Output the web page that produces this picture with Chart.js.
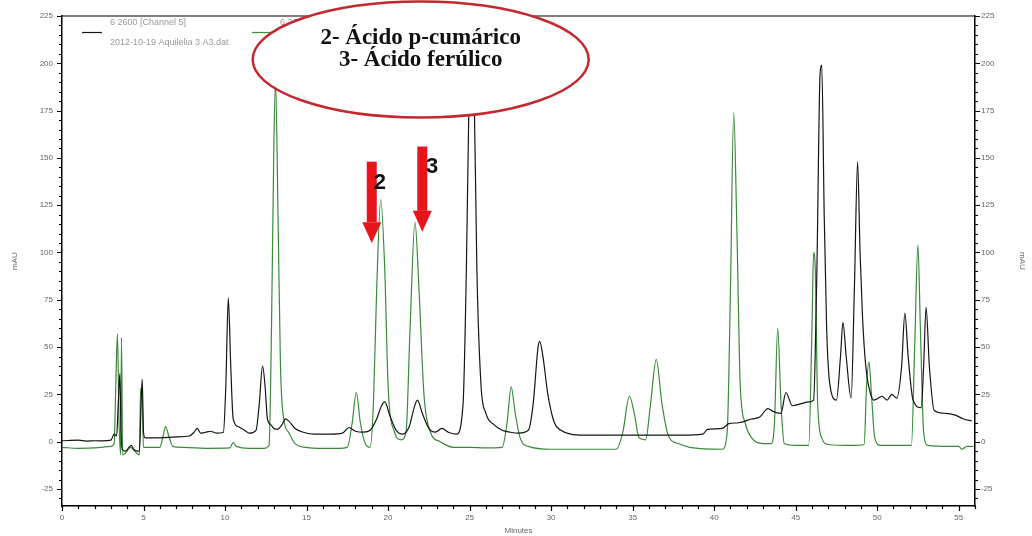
<!DOCTYPE html>
<html>
<head>
<meta charset="utf-8">
<script src="https://cdn.jsdelivr.net/npm/chart.js@4/dist/chart.umd.min.js"></script>
<style>
  html, body { margin: 0; padding: 0; background: #fff; }
  #wrap { width: 1032px; height: 536px; }
</style>
</head>
<body>
<div id="wrap"><canvas id="myChart" width="1032" height="536"></canvas></div>
<script>
// chromatogram traces (minutes, mAU)
var blackTime = [0, 1.0, 1.5, 2.0, 2.5, 3.0, 3.2, 3.35, 3.45, 3.55, 3.62, 3.7, 3.9, 4.1, 4.25, 4.4, 4.6, 4.75, 4.85, 4.92, 5.0, 5.1,
  6.0, 7.0, 7.8, 8.1, 8.3, 8.5, 8.8, 9.1, 9.5, 9.9, 10.05, 10.2, 10.35, 10.5, 10.8, 11.2, 11.5, 11.9, 12.1, 12.3, 12.45, 12.6,
  12.8, 13.0, 13.2, 13.5, 13.7, 13.9, 14.3, 14.8, 15.5, 16.5, 17.2, 17.6, 18.0, 18.5, 18.9, 19.3, 19.6, 19.8, 20.1, 20.5,
  20.9, 21.3, 21.6, 21.8, 22.1, 22.5, 22.9, 23.3, 23.7, 24.2, 24.6, 24.8, 25.0, 25.1, 25.25, 25.45, 25.7, 26.0, 26.5, 27.0,
  27.5, 28.0, 28.6, 28.9, 29.2, 29.3, 29.5, 29.8, 30.2, 30.6, 31.2, 32, 34, 36, 38, 39.3, 39.6, 40.5, 40.9, 41.5, 42.3,
  42.8, 43.3, 43.6, 44.1, 44.4, 44.8, 45.3, 45.8, 46.1, 46.3, 46.5, 46.6, 46.75, 46.9, 47.1, 47.5, 47.75, 47.9, 48.1,
  48.4, 48.6, 48.8, 48.95, 49.1, 49.3, 49.6, 49.8, 50.3, 50.6, 50.9, 51.2, 51.5, 51.7, 51.9, 52.2, 52.7, 52.85, 53.0,
  53.2, 53.5, 54.2, 54.8, 55.3, 55.8];
var blackMau = [0.5, 0.8, 0.3, 0.5, 0.4, 0.8, 4, 3, 20, 36, 5, -4, -5, -3, -2, -4, -5, -5, 20, 33, 5, 2,
  2, 2.5, 3, 5, 7, 4.5, 5, 5.5, 4.5, 5, 30, 76, 40, 12, 8, 6, 4.5, 6, 20, 40, 30, 12,
  9, 7, 6.5, 9, 12, 11, 7, 5, 4, 4, 4.5, 7.5, 5.5, 5, 6, 12, 19, 21, 14, 6,
  4, 8, 18, 22, 15, 7, 5, 7, 5, 4, 20, 90, 200, 222, 200, 90, 30, 15, 9, 6,
  5, 4.5, 6, 20, 50, 53, 45, 25, 10, 6, 4, 3.5, 3.5, 3.5, 3.5, 4, 6.5, 7, 9.5, 10, 12,
  13, 17.5, 16, 15, 26, 19, 20, 21, 22, 90, 195, 199, 120, 60, 30, 22, 45, 63, 45,
  23, 80, 148, 100, 66, 40, 25, 22, 24, 22, 25, 23, 40, 68, 45, 22, 18, 40, 71,
  40, 16.5, 15, 14, 12, 11];

var greenTime = [0, 1.0, 2.0, 3.0, 3.2, 3.3, 3.4, 3.5, 3.6, 3.65, 3.72, 3.9, 4.2, 4.5, 4.75, 4.82, 4.9, 5.0, 5.5, 6.0,
  6.2, 6.35, 6.55, 6.8, 7.5, 9.0, 10.3, 10.5, 10.7, 11.5, 12.4, 12.7, 12.85, 13.0, 13.1, 13.25, 13.4, 13.6, 13.9,
  14.3, 15, 16, 17.0, 17.5, 17.8, 18.05, 18.3, 18.6, 18.9, 19.1, 19.3, 19.55, 19.8, 20.0, 20.4, 20.8, 21.1, 21.35,
  21.65, 21.9, 22.2, 22.6, 23.2, 24, 25, 26, 27.0, 27.3, 27.55, 27.8, 28.1, 28.6, 30, 32, 34.0, 34.4, 34.8, 35.1,
  35.4, 35.8, 36.1, 36.45, 36.8, 37.2, 37.8, 38.5, 40.5, 40.8, 41.0, 41.2, 41.4, 41.6, 41.9, 42.3, 43.0, 43.5,
  43.7, 43.9, 44.1, 44.3, 45.0, 45.8, 46.0, 46.1, 46.2, 46.35, 46.6, 47.0, 48.5, 49.2, 49.35, 49.5, 49.65, 49.85,
  50.2, 52.1, 52.3, 52.5, 52.65, 52.85, 53.1, 54.5, 55.0, 55.2, 55.5, 55.9];
var greenMau = [-3, -3.5, -3.3, -2.5, -1, 30, 57, 10, -7, 55, -7, -6, -3, -5.5, -7, 28, 26, -3, -3, -3,
  3, 8, 3, -2.5, -3, -3.5, -3.3, -0.5, -2.5, -3.5, -3.5, -2, 60, 160, 190, 120, 40, 12, 5,
  -1, -3, -3.5, -3.5, -3, 10, 26, 10, -1, -3, 20, 80, 128, 90, 30, 5, 1, 5, 60,
  116, 80, 25, 5, 0, -3, -3, -3.3, -3, 10, 29, 15, 2, -2.5, -4, -4, -4, 5, 24, 15,
  2, 1, 20, 43.5, 20, 3, -1, -3, -4, 5, 80, 174, 110, 30, 10, 2, -1, -1,
  10, 60, 20, -1, -2, -2, 60, 100, 92, 20, 2, -1.5, -2, -1.5, 30, 42, 25, 2,
  -2, -2, 50, 104, 60, 5, -2, -2.5, -2.5, -4, -2.5, -2.5];

var xTicks = [0, 5, 10, 15, 20, 25, 30, 35, 40, 45, 50, 55];
var yTicks = [-25, 0, 25, 50, 75, 100, 125, 150, 175, 200, 225];

var legendLines = [['6 2600 [Channel 5]', '2012-10-19 Aquilelia 3 A3.dat'], ['6 2600 [Channel 6]', '2012-10-19 Aquilelia 3 A3.dat']];
var compoundText = ['2- Ácido p-cumárico', '3- Ácido ferúlico'];

function pairs(t, v) {
  return t.map(function (x, i) { return { x: x, y: v[i] }; });
}

var tickFont = { family: 'Liberation Sans', size: 8 };
var grey = '#666';

function fixTicks(list) {
  return function (scale) {
    scale.ticks = list.map(function (v) { return { value: v }; });
  };
}

// minor/major ticks, top frame, legend, ellipse and arrows
var extras = {
  id: 'extras',
  afterDraw: function (chart) {
    var ctx = chart.ctx;
    var a = chart.chartArea;
    var sx = chart.scales.x, sy = chart.scales.y;
    ctx.save();
    ctx.strokeStyle = '#000';
    ctx.lineWidth = 1.2;
    ctx.beginPath();
    ctx.moveTo(a.left, a.top); ctx.lineTo(a.right, a.top);
    // x ticks
    for (var m = 0; m <= 56; m++) {
      var px = Math.round(sx.getPixelForValue(m)) + 0.5;
      var len = m % 5 === 0 ? 5 : 3;
      ctx.moveTo(px, a.bottom); ctx.lineTo(px, a.bottom + len);
    }
    // y ticks both sides
    for (var v = -30; v <= 225; v += 5) {
      var py = Math.round(sy.getPixelForValue(v)) + 0.5;
      var l2 = v % 25 === 0 ? 5 : 3;
      ctx.moveTo(a.left, py); ctx.lineTo(a.left - l2, py);
      ctx.moveTo(a.right, py); ctx.lineTo(a.right + l2, py);
    }
    ctx.stroke();

    // legend
    ctx.font = '9px "Liberation Sans"';
    ctx.fillStyle = '#999';
    ctx.textBaseline = 'middle';
    var lx = [82, 252];
    chart.data.datasets.forEach(function (ds, i) {
      ctx.strokeStyle = ds.borderColor;
      ctx.lineWidth = 1.2;
      ctx.beginPath();
      ctx.moveTo(lx[i], 32.5); ctx.lineTo(lx[i] + 20, 32.5);
      ctx.stroke();
      ctx.fillText(legendLines[i][0], lx[i] + 28, 23);
      ctx.fillText(legendLines[i][1], lx[i] + 28, 43);
    });

    // ellipse with compound names
    var ex = sx.getPixelForValue(22.0), ey = sy.getPixelForValue(202);
    ctx.beginPath();
    ctx.ellipse(ex, ey, 168, 58, 0, 0, Math.PI * 2);
    ctx.fillStyle = '#fff';
    ctx.fill();
    ctx.strokeStyle = '#c3282f';
    ctx.lineWidth = 2.5;
    ctx.stroke();
    ctx.fillStyle = '#111';
    ctx.textAlign = 'center';
    ctx.font = 'bold 23px "Liberation Serif"';
    ctx.fillText(compoundText[0], ex, ey - 21);
    ctx.fillText(compoundText[1], ex, ey + 1);

    // red arrows
    function arrow(t, top, head, tip, label, lt, lv) {
      var cx = sx.getPixelForValue(t);
      var y0 = sy.getPixelForValue(top), y1 = sy.getPixelForValue(head), y2 = sy.getPixelForValue(tip);
      ctx.fillStyle = '#e8141b';
      ctx.fillRect(cx - 5, y0, 10, y1 - y0);
      ctx.beginPath();
      ctx.moveTo(cx - 9.5, y1); ctx.lineTo(cx + 9.5, y1); ctx.lineTo(cx, y2);
      ctx.closePath();
      ctx.fill();
      ctx.fillStyle = '#111';
      ctx.font = 'bold 22px "Liberation Sans"';
      ctx.fillText(label, sx.getPixelForValue(lt), sy.getPixelForValue(lv));
    }
    arrow(19.0, 148, 116, 105, '2', 19.5, 137);
    arrow(22.1, 156, 122, 111, '3', 22.7, 145);
    ctx.restore();
  }
};

new Chart(document.getElementById('myChart'), {
  type: 'line',
  data: {
    datasets: [
      { label: legendLines[0][0], data: pairs(blackTime, blackMau), borderColor: '#151515', borderWidth: 1.2, pointRadius: 0, cubicInterpolationMode: 'monotone' },
      { label: legendLines[1][0], data: pairs(greenTime, greenMau), borderColor: '#3b8a3b', borderWidth: 1.2, pointRadius: 0, cubicInterpolationMode: 'monotone' }
    ]
  },
  options: {
    responsive: false,
    animation: false,
    layout: { padding: { top: 16, left: 0, right: 0, bottom: 0 } },
    plugins: { legend: { display: false }, tooltip: { enabled: false } },
    scales: {
      x: {
        type: 'linear', min: 0, max: 56,
        afterBuildTicks: fixTicks(xTicks),
        afterFit: function (s) { s.height = 30; },
        grid: { display: true, drawOnChartArea: false, drawTicks: false },
        border: { display: true, color: '#000', width: 1.5 },
        ticks: { font: tickFont, color: grey, padding: 7, maxRotation: 0 },
        title: { display: true, text: 'Minutes', font: tickFont, color: grey, padding: { top: 0, bottom: 0 } }
      },
      y: {
        type: 'linear', position: 'left', min: -34, max: 225,
        afterBuildTicks: fixTicks(yTicks),
        afterFit: function (s) { s.width = 62; },
        grid: { display: true, drawOnChartArea: false, drawTicks: false },
        border: { display: true, color: '#000', width: 1.5 },
        ticks: { font: tickFont, color: grey, padding: 9 },
        title: { display: true, text: 'mAU', font: tickFont, color: grey, padding: { top: 10, bottom: 0 } }
      },
      y2: {
        type: 'linear', position: 'right', min: -34, max: 225,
        afterBuildTicks: fixTicks(yTicks),
        afterFit: function (s) { s.width = 57; },
        grid: { display: true, drawOnChartArea: false, drawTicks: false },
        border: { display: true, color: '#000', width: 1.5 },
        ticks: { font: tickFont, color: grey, padding: 6 },
        title: { display: true, text: 'mAU', font: tickFont, color: grey, padding: { top: 5, bottom: 0 } }
      }
    }
  },
  plugins: [extras]
});
</script>
</body>
</html>
